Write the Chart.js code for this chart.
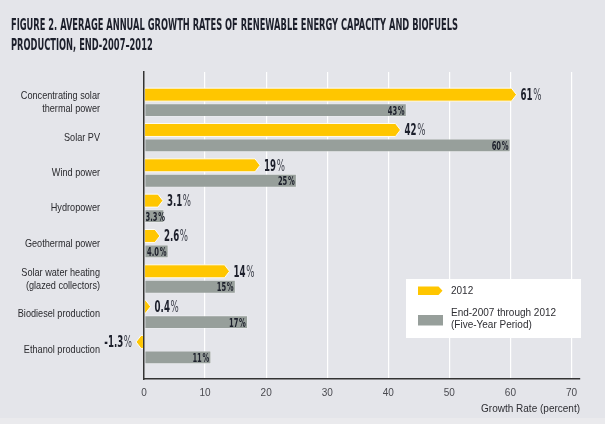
<!DOCTYPE html>
<html><head><meta charset="utf-8">
<script src="https://cdn.jsdelivr.net/npm/chart.js@4.4.0/dist/chart.umd.min.js"></script>
<style>html,body{margin:0;padding:0;background:#e4e5ea;overflow:hidden}#wrap{width:605px;height:424px;position:relative}</style>
</head><body><div id="wrap"><canvas id="c" width="605" height="424"></canvas></div>
<script>
const titleLines = ["FIGURE 2. AVERAGE ANNUAL GROWTH RATES OF RENEWABLE ENERGY CAPACITY AND BIOFUELS", "PRODUCTION, END-2007\u20132012"];
const categories = [["Concentrating solar","thermal power"],"Solar PV","Wind power","Hydropower","Geothermal power",["Solar water heating","(glazed collectors)"],"Biodiesel production","Ethanol production"];
const seriesNames = ["2012", "End-2007 through 2012 (Five-Year Period)"];
const legendLines = [["2012"], ["End-2007 through 2012", "(Five-Year Period)"]];
const growth2012 = [61, 42, 19, 3.1, 2.6, 14, 0.4, -1.3];
const growthFiveYear = [43, 60, 25, 3.3, 4.0, 15, 17, 11];
const labels2012 = ["61", "42", "19", "3.1", "2.6", "14", "0.4", "-1.3"];
const labelsFiveYear = ["43", "60", "25", "3.3", "4.0", "15", "17", "11"];
const xTicks = [0, 10, 20, 30, 40, 50, 60, 70];
const xTitle = "Growth Rate (percent)";

const YELLOW = '#ffc600', GRAY = '#979f9b', BG = '#e4e5ea', DARK = '#1c1f2b';
const COND = '"DejaVu Sans Condensed", "DejaVu Sans", sans-serif';
const SANS = '"Liberation Sans", Arial, sans-serif';

function yellowPath(ctx, base, end, y, h, t) {
  const dir = end >= base ? 1 : -1;
  const len = Math.max(Math.abs(end - base), t + 1);
  const e = base + dir * len;
  const top = y - h / 2, bot = y + h / 2;
  ctx.beginPath();
  ctx.moveTo(base, top);
  ctx.lineTo(e - dir * t, top);
  ctx.lineTo(e, y);
  ctx.lineTo(e - dir * t, bot);
  ctx.lineTo(base, bot);
  ctx.closePath();
  return e;
}

function measureValue(ctx, num, size, sx, pctBold) {
  ctx.save();
  ctx.font = 'bold ' + size + 'px ' + COND; const w1 = ctx.measureText(num).width;
  ctx.font = (pctBold ? 'bold ' : '') + size + 'px ' + COND; const w2 = ctx.measureText('%').width;
  ctx.restore();
  return { w1, w2, w: (w1 + 1 + w2) * sx };
}

function drawValue(ctx, num, x, y, size, align, sx, pctBold, pctColor) {
  const m = measureValue(ctx, num, size, sx, pctBold);
  ctx.save();
  const left = align === 'left' ? x : x - m.w;
  ctx.translate(left, y); ctx.scale(sx, 1);
  ctx.textAlign = 'left'; ctx.textBaseline = 'alphabetic';
  ctx.fillStyle = DARK;
  ctx.font = 'bold ' + size + 'px ' + COND; ctx.fillText(num, 0, 0);
  ctx.fillStyle = pctColor || DARK;
  ctx.font = (pctBold ? 'bold ' : '') + size + 'px ' + COND; ctx.fillText('%', m.w1 + 1, 0);
  ctx.restore();
}

const decorPlugin = {
  id: 'decor',
  beforeDraw(chart) {
    const ctx = chart.ctx;
    ctx.save();
    ctx.fillStyle = BG; ctx.fillRect(0, 0, chart.width, chart.height);
    ctx.fillStyle = '#eaeaed'; ctx.fillRect(0, 418, chart.width, chart.height - 418);
    ctx.font = 'bold 15.5px ' + COND;
    const w0 = ctx.measureText(titleLines[0]).width;
    const sx = 447 / w0;
    ctx.fillStyle = DARK; ctx.textBaseline = 'alphabetic'; ctx.textAlign = 'left';
    titleLines.forEach((t, i) => {
      ctx.save(); ctx.translate(11, 29.5 + i * 20); ctx.scale(sx, 1); ctx.fillText(t, 0, 0); ctx.restore();
    });
    ctx.restore();
  },
  beforeDatasetDraw(chart, args) {
    if (args.index !== 0) return;
    const ctx = chart.ctx;
    ctx.save();
    args.meta.data.forEach(el => {
      const p = el.getProps(['x', 'y', 'base', 'height'], true);
      yellowPath(ctx, p.base, p.x, p.y, p.height - 0.5, 5);
      ctx.fillStyle = YELLOW; ctx.fill();
      ctx.strokeStyle = 'rgba(255,255,255,0.9)'; ctx.lineWidth = 1; ctx.stroke();
    });
    ctx.restore();
    return false;
  },
  afterDatasetsDraw(chart) {
    const ctx = chart.ctx;
    const m0 = chart.getDatasetMeta(0), m1 = chart.getDatasetMeta(1);
    m0.data.forEach((el, i) => {
      const p = el.getProps(['x', 'y', 'base'], true);
      const dir = p.x >= p.base ? 1 : -1;
      const len = Math.max(Math.abs(p.x - p.base), 6);
      const e = p.base + dir * len;
      if (dir > 0) drawValue(ctx, labels2012[i], e + 4, p.y + 5.3, 15, 'left', 0.64, false, '#3a3d48');
      else drawValue(ctx, labels2012[i], e - 4, p.y + 5.3, 15, 'right', 0.64, false, '#3a3d48');
    });
    m1.data.forEach((el, i) => {
      const p = el.getProps(['x', 'y', 'base'], true);
      const m = measureValue(ctx, labelsFiveYear[i], 12.5, 0.6, true);
      const right = Math.max(p.x - 2, p.base + m.w + 1);
      drawValue(ctx, labelsFiveYear[i], right, p.y + 4.5, 12.5, 'right', 0.6, true);
    });
    const ys = chart.scales.y;
    ctx.save();
    ctx.fillStyle = '#2a2a2e'; ctx.font = '11px ' + SANS; ctx.textAlign = 'right'; ctx.textBaseline = 'middle';
    const sxl = 0.83;
    categories.forEach((c, i) => {
      const lines = Array.isArray(c) ? c : [c];
      const cy = ys.getPixelForValue(i);
      lines.forEach((ln, k) => {
        const ly = cy + (k - (lines.length - 1) / 2) * 13;
        ctx.save(); ctx.translate(100, ly); ctx.scale(sxl, 1); ctx.fillText(ln, 0, 0); ctx.restore();
      });
    });
    ctx.restore();
  },
  afterDraw(chart) {
    const ctx = chart.ctx;
    ctx.save();
    ctx.fillStyle = '#ffffff';
    ctx.fillRect(406, 279, 175, 59);
    yellowPath(ctx, 418, 442.5, 290.8, 8.6, 4);
    ctx.fillStyle = YELLOW; ctx.fill();
    ctx.fillStyle = GRAY; ctx.fillRect(418, 315, 25, 10.5);
    ctx.fillStyle = '#2e2e33'; ctx.font = '10px ' + SANS; ctx.textBaseline = 'middle'; ctx.textAlign = 'left';
    ctx.fillText(legendLines[0][0], 451, 291);
    ctx.fillText(legendLines[1][0], 451, 313.5);
    ctx.fillText(legendLines[1][1], 451, 325.5);
    ctx.restore();
  }
};

new Chart(document.getElementById('c'), {
  type: 'bar',
  data: {
    datasets: [
      { label: seriesNames[0], data: growth2012.map((v, i) => ({ x: v, y: i })), backgroundColor: YELLOW,
        categoryPercentage: 0.875, barPercentage: 0.87, clip: false },
      { label: seriesNames[1], data: growthFiveYear.map((v, i) => ({ x: v, y: i })), backgroundColor: GRAY,
        borderColor: 'rgba(255,255,255,0.35)', borderWidth: 0.8, borderSkipped: false,
        categoryPercentage: 0.875, barPercentage: 0.87 }
    ]
  },
  options: {
    indexAxis: 'y', responsive: false, animation: false, devicePixelRatio: 1,
    layout: { padding: { top: 72, right: 25, left: 0, bottom: 0 } },
    plugins: { legend: { display: false }, tooltip: { enabled: false }, title: { display: false } },
    scales: {
      x: {
        type: 'linear', min: 0, max: 71.4,
        afterBuildTicks: s => { s.ticks = xTicks.map(v => ({ value: v })); },
        afterFit: s => { s.height = 45; s.paddingLeft = 0; s.paddingRight = 0; },
        grid: { color: '#ffffff', lineWidth: 1.2, drawTicks: false },
        border: { display: true, color: '#333333', width: 1.5 },
        ticks: { color: '#4a4a50', font: { family: SANS, size: 10 }, padding: 8, maxRotation: 0, autoSkip: false },
        title: { display: true, text: xTitle, align: 'end', color: '#2e2e33', font: { family: SANS, size: 10 }, padding: { top: 0, bottom: 9 } }
      },
      y: {
        type: 'linear', reverse: true, min: -0.86, max: 7.83, offset: false,
        afterBuildTicks: s => { s.ticks = categories.map((c, i) => ({ value: i })); },
        afterFit: s => { s.width = 144; s.paddingTop = 0; s.paddingBottom = 0; },
        grid: { display: false, drawTicks: false },
        border: { display: true, color: '#333333', width: 1.5, z: 1 },
        ticks: { display: false }
      }
    }
  },
  plugins: [decorPlugin]
});
</script></body></html>
